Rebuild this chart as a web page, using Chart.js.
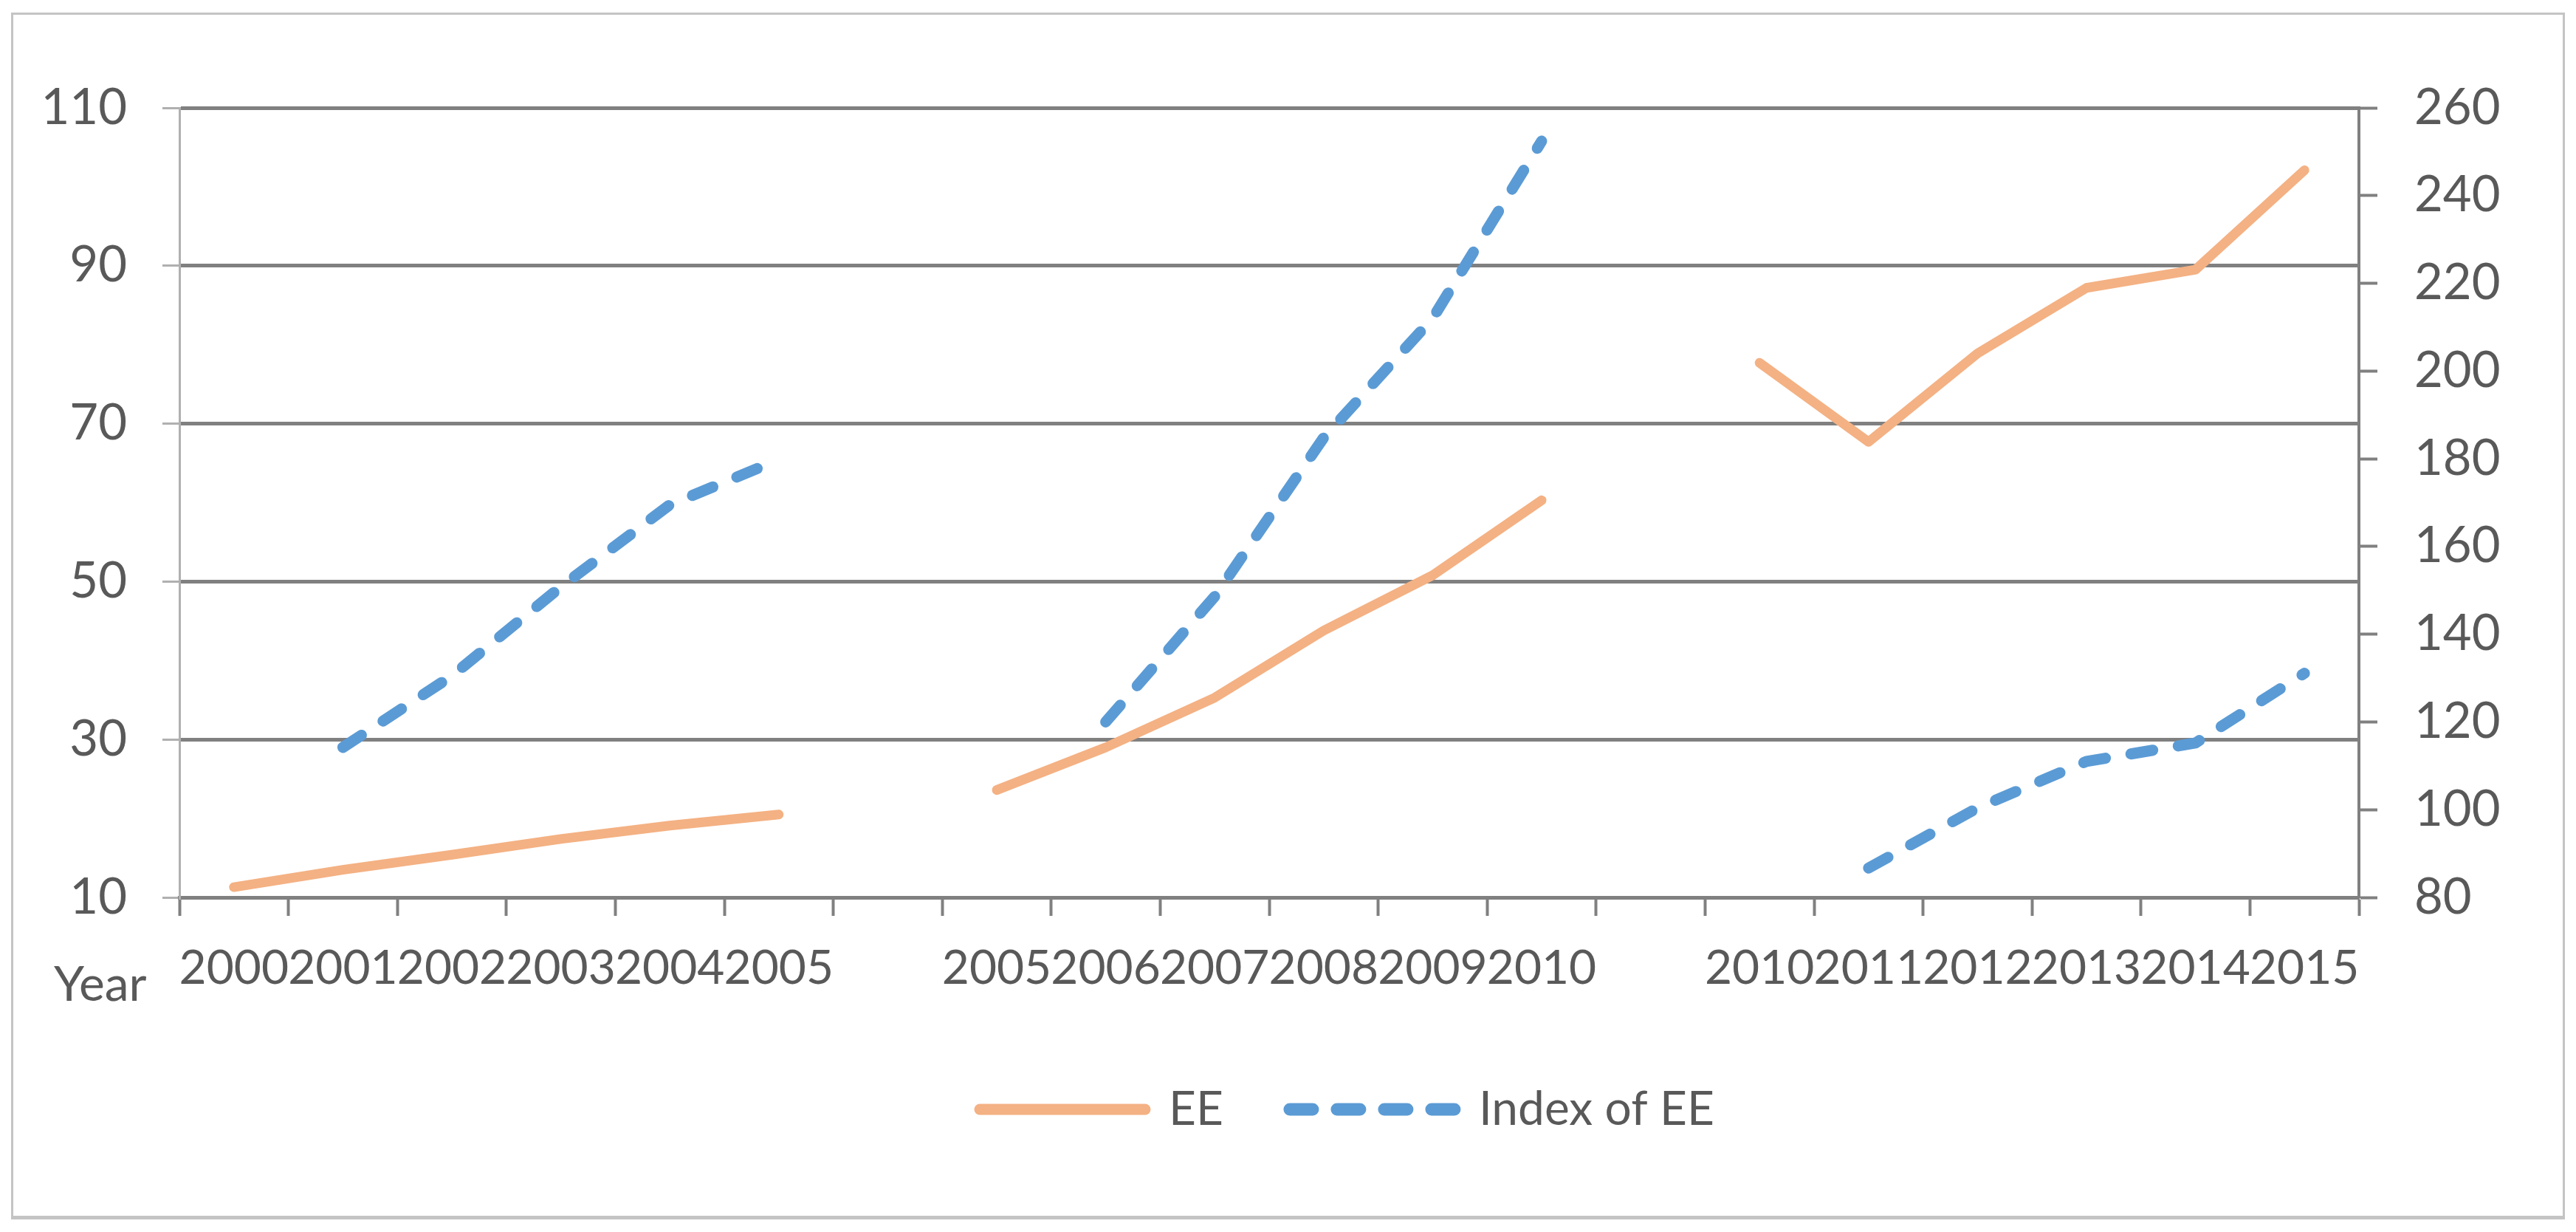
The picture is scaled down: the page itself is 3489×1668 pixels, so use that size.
<!DOCTYPE html>
<html>
<head>
<meta charset="utf-8">
<script src="https://cdn.jsdelivr.net/npm/chart.js@4.4.1/dist/chart.umd.min.js"></script>
<style>
  html, body { margin: 0; padding: 0; background: #fff; }
  #frame { position: absolute; left: 15px; top: 17px; width: 3453px; height: 1626px; border: 3px solid #c4c4c4; border-bottom-width: 5px; }
  #chart { position: absolute; left: 0; top: 0; }
</style>
</head>
<body>
<div id="frame"></div>
<canvas id="chart" width="3489" height="1668"></canvas>
<script>
// Nhãn trục X (3 nhóm năm, có ô trống giữa các nhóm)
const years = ['2000', '2001', '2002', '2003', '2004', '2005', '',
               '2005', '2006', '2007', '2008', '2009', '2010', '',
               '2010', '2011', '2012', '2013', '2014', '2015'];

// EE - trục trái
const eeValues = [11.3, 13.5, 15.4, 17.4, 19.1, 20.5, null,
                  23.6, 29.0, 35.3, 43.8, 50.8, 60.3, null,
                  77.7, 67.7, 78.9, 87.2, 89.5, 102.1];

// Index of EE - trục phải
const indexValues = [null, 114.2, 130.5, 150.8, 169.5, 179.8, null,
                     null, 120.0, 148.6, 184.8, 212.0, 252.4, null,
                     null, 86.7, 100.4, 111.0, 115.2, 131.1];

const leftTicks = [10, 30, 50, 70, 90, 110];
const rightTicks = [80, 100, 120, 140, 160, 180, 200, 220, 240, 260];

const textColor = '#595959';
const fontFamily = 'Lato, "Open Sans", sans-serif';

// Vẽ chữ "Year" và đặt chú thích bắt đầu ở x = 1327
const extras = {
    id: 'extras',
    afterLayout(chart) {
        const lg = chart.legend;
        const pad = lg.options.labels.padding;
        const x0 = (lg.left + pad + lg.right - lg.lineWidths[0]) / 2;
        const d = 1327 - x0;
        lg.left += d;
        lg.right += d;
    },
    afterDraw(chart) {
        const c = chart.ctx;
        c.save();
        c.font = '66px ' + fontFamily;
        c.fillStyle = textColor;
        c.textBaseline = 'alphabetic';
        c.textAlign = 'left';
        c.fillText('Year', 73, 1355);
        c.restore();
    }
};

const ctx = document.getElementById('chart').getContext('2d');
const chart = new Chart(ctx, {
    type: 'line',
    data: {
        labels: years,
        datasets: [{
            label: 'EE',
            data: eeValues,
            yAxisID: 'y',
            borderColor: '#F4B183',
            backgroundColor: '#F4B183',
            borderWidth: 13,
            borderCapStyle: 'round',
            borderJoinStyle: 'round',
            pointRadius: 0,
            tension: 0,
            spanGaps: false
        }, {
            label: 'Index of EE',
            data: indexValues,
            yAxisID: 'y1',
            borderColor: '#5B9BD5',
            backgroundColor: '#5B9BD5',
            borderWidth: 15,
            borderDash: [30, 35],
            borderCapStyle: 'round',
            borderJoinStyle: 'round',
            pointRadius: 0,
            tension: 0,
            spanGaps: false
        }]
    },
    options: {
        responsive: false,
        devicePixelRatio: 1,
        animation: false,
        layout: {
            padding: { top: 146, left: 0, right: 0, bottom: 124 }
        },
        plugins: {
            legend: {
                position: 'bottom',
                labels: {
                    usePointStyle: true,
                    pointStyle: 'line',
                    pointStyleWidth: 224,
                    padding: 90,
                    color: textColor,
                    font: { family: fontFamily, size: 64 },
                    generateLabels(chart) {
                        const items = Chart.defaults.plugins.legend.labels.generateLabels(chart);
                        items.forEach((it, i) => {
                            const ds = chart.data.datasets[i];
                            it.lineWidth = ds.borderWidth + 2;
                            it.lineDash = i === 1 ? [31, 33] : [];
                            it.lineCap = 'round';
                            it.strokeStyle = ds.borderColor;
                            it.pointStyle = 'line';
                        });
                        return items;
                    }
                }
            },
            tooltip: { enabled: false }
        },
        scales: {
            x: {
                offset: true,
                grid: {
                    offset: true,
                    drawOnChartArea: false,
                    drawTicks: true,
                    tickLength: 25,
                    tickColor: '#808080',
                    tickWidth: 4
                },
                border: { color: '#808080', width: 5 },
                ticks: {
                    autoSkip: false,
                    maxRotation: 0,
                    minRotation: 0,
                    padding: 33,
                    color: textColor,
                    font: { family: fontFamily, size: 64 }
                },
                afterFit(scale) { scale.height = 165; }
            },
            y: {
                position: 'left',
                min: 10,
                max: 110,
                afterBuildTicks(scale) { scale.ticks = leftTicks.map(v => ({ value: v })); },
                grid: {
                    color: '#808080',
                    lineWidth: 5,
                    drawTicks: true,
                    tickLength: 23,
                    tickColor: '#b0b0b0',
                    tickWidth: 3
                },
                border: { color: '#b0b0b0', width: 3 },
                ticks: {
                    padding: 48,
                    color: textColor,
                    font: { family: fontFamily, size: 67 }
                },
                afterFit(scale) { scale.width = 243; }
            },
            y1: {
                position: 'right',
                min: 80,
                max: 260,
                afterBuildTicks(scale) { scale.ticks = rightTicks.map(v => ({ value: v })); },
                grid: {
                    drawOnChartArea: false,
                    drawTicks: true,
                    tickLength: 25,
                    tickColor: '#808080',
                    tickWidth: 4
                },
                border: { color: '#808080', width: 4 },
                ticks: {
                    padding: 50,
                    color: textColor,
                    font: { family: fontFamily, size: 67 }
                },
                afterFit(scale) { scale.width = 294; }
            }
        }
    },
    plugins: [extras]
});
</script>
</body>
</html>
